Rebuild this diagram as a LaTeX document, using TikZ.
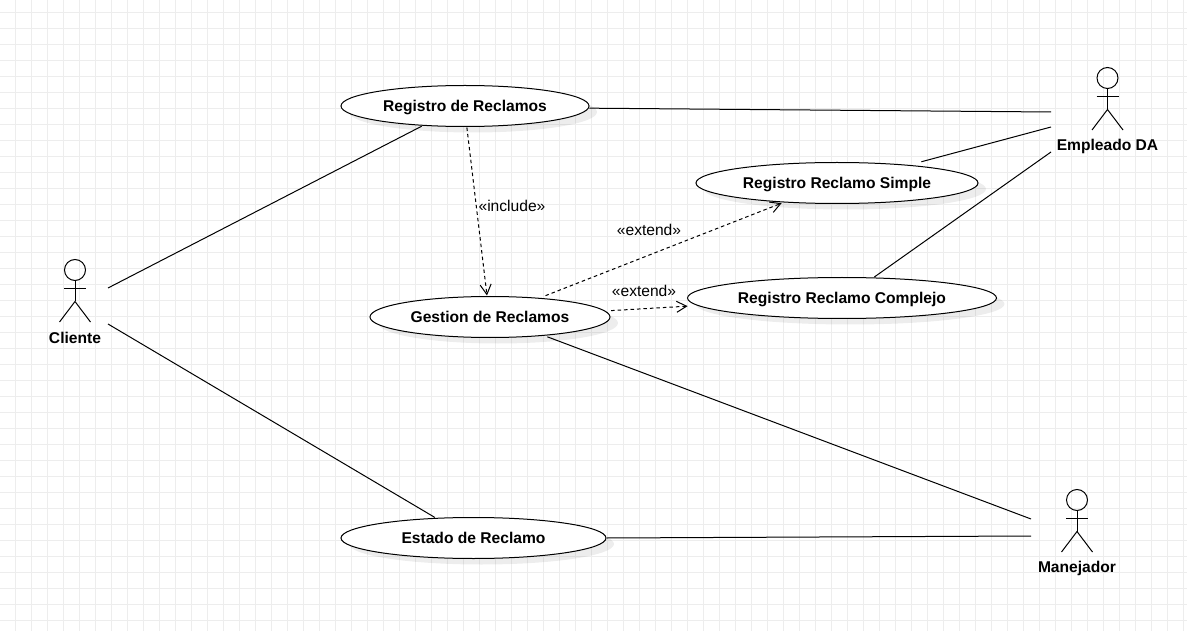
\documentclass[tikz,border=0pt]{standalone}
\usepackage{fontspec}
\setmainfont{Liberation Sans}
\usetikzlibrary{arrows.meta,shapes.geometric,shadows}
\tikzset{
    actor/.pic={
        \draw [actorline] (0,0) circle (10.5);
        \draw [actorline] (0,10.5) -- (0,31.5) (-11,18.5) -- (11,18.5);
        \draw [actorline] (-15.5,52) -- (0,31.5) -- (15.5,52);
    }
}
\begin{document}
\begin{tikzpicture}[
    x=1pt, y=-1pt,
    actorline/.style={line width=1pt},
    gridline/.style={line width=1pt, black!7},
    usecase/.style={ellipse, draw, fill=white, line width=1pt, inner sep=0pt, outer sep=1pt, minimum height=41pt, text height=14.4pt, text depth=3.4pt, font=\fontsize{15.6}{18}\selectfont\bfseries,
        drop shadow={shadow xshift=8pt, shadow yshift=-6pt, fill=black, opacity=0.07}},
    actorlabel/.style={font=\fontsize{15.6}{18}\selectfont\bfseries, inner sep=1pt},
    steretype/.style={font=\fontsize{15.6}{18}\selectfont, inner sep=1pt},
    assoc/.style={line width=1pt},
    dep/.style={line width=1pt, dash pattern=on 3.5pt off 3pt, -{Straight Barb[length=10pt,width=11pt]}}
]
    \useasboundingbox (0,0) rectangle (1187,631);

    % Background grid
    \foreach \gx in {15,31,...,1183} \draw [gridline] (\gx+0.5,0) -- (\gx+0.5,631);
    \foreach \gy in {12,28,...,630} \draw [gridline] (0,\gy+0.5) -- (1187,\gy+0.5);

    % Use cases
    \node [usecase, minimum width=248pt] (registro) at (465,106) {Registro de Reclamos};
    \node [usecase, minimum width=282pt] (simple) at (837,183) {Registro Reclamo Simple};
    \node [usecase, minimum width=309pt] (complejo) at (842,298) {Registro Reclamo Complejo};
    \node [usecase, minimum width=240pt] (gestion) at (490,317) {Gestion de Reclamos};
    \node [usecase, minimum width=265pt] (estado) at (473.5,538) {Estado de Reclamo};

    % Actors
    \pic at (75,270) {actor};
    \pic at (1107.5,78) {actor};
    \pic at (1077,500) {actor};
    \node [actorlabel] (cliente) at (75,338) {Cliente};
    \node [actorlabel] (empleado) at (1107.5,146) {Empleado DA};
    \node [actorlabel] (manejador) at (1077,568) {Manejador};

    % Free ends beside the actors
    \coordinate (cliente1) at (108,288);
    \coordinate (cliente2) at (108,324);
    \coordinate (empleado1) at (1051,112);
    \coordinate (empleado2) at (1051,127);
    \coordinate (empleado3) at (1051,152);
    \coordinate (manejador1) at (1031,519);
    \coordinate (manejador2) at (1031,536);

    % Associations
    \draw [assoc] (cliente1) -- (registro.205);
    \draw [assoc] (cliente2) -- (estado.152);
    \draw [assoc] (registro.-1) -- (empleado1);
    \draw [assoc, shorten <=11pt] (simple.14.7) -- (empleado2);
    \draw [assoc] (complejo.33) -- (empleado3);
    \draw [assoc, shorten <=2pt] (gestion.-19.8) -- (manejador1);
    \draw [assoc] (estado.0) -- (manejador2);

    % Dependencies
    \draw [dep] (registro.275) -- (gestion.98);
    \draw [dep, shorten <=5pt, shorten >=1pt] (gestion.21.6) -- (simple.200.9);
    \draw [dep, shorten <=5pt, shorten >=9pt] (gestion.3.3) -- (complejo.183);

    % Stereotype labels
    \node [steretype] (includelabel) at (512,206) {«include»};
    \node [steretype] (extendlabel1) at (649,230) {«extend»};
    \node [steretype] (extendlabel2) at (644,291) {«extend»};
\end{tikzpicture}
\end{document}
